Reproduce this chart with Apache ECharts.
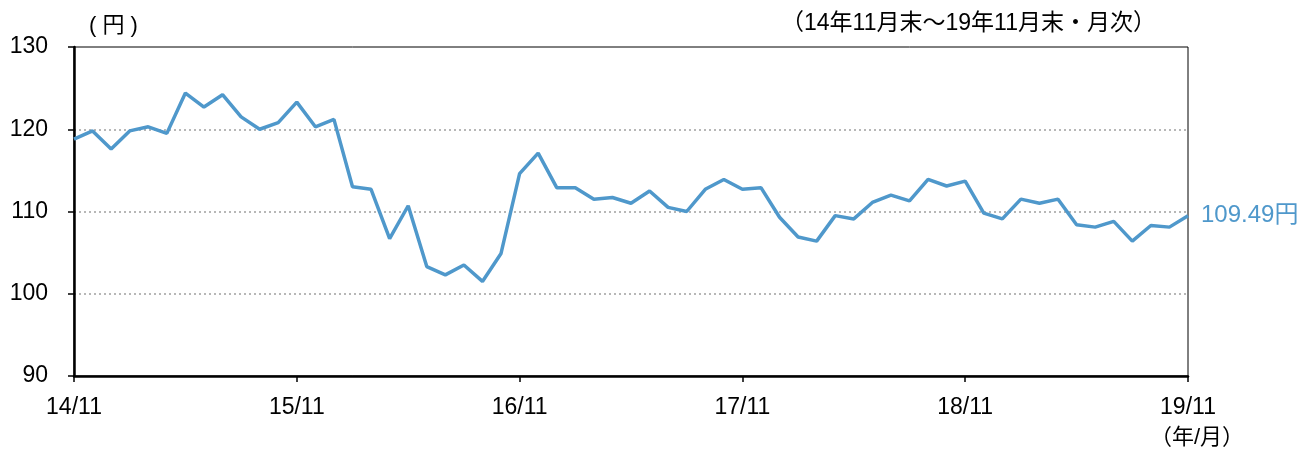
<!DOCTYPE html>
<html>
<head>
<meta charset="utf-8">
<script src="https://cdn.jsdelivr.net/npm/echarts@6/dist/echarts.min.js"></script>
<style>
  html, body { margin: 0; padding: 0; background: #fff; }
  #main { width: 1306px; height: 451px; }
</style>
</head>
<body>
<div id="main"></div>
<script>
// 月末ドル円レート（14/11〜19/11）
var months = [
  '14/11', '14/12', '15/01', '15/02', '15/03', '15/04', '15/05', '15/06', '15/07', '15/08', '15/09', '15/10',
  '15/11', '15/12', '16/01', '16/02', '16/03', '16/04', '16/05', '16/06', '16/07', '16/08', '16/09', '16/10',
  '16/11', '16/12', '17/01', '17/02', '17/03', '17/04', '17/05', '17/06', '17/07', '17/08', '17/09', '17/10',
  '17/11', '17/12', '18/01', '18/02', '18/03', '18/04', '18/05', '18/06', '18/07', '18/08', '18/09', '18/10',
  '18/11', '18/12', '19/01', '19/02', '19/03', '19/04', '19/05', '19/06', '19/07', '19/08', '19/09', '19/10',
  '19/11'
];
var usdjpy = [
  118.8, 119.8, 117.6, 119.8, 120.3, 119.5, 124.4, 122.7, 124.2, 121.5, 120.0, 120.8,
  123.3, 120.3, 121.2, 113.0, 112.7, 106.7, 110.7, 103.3, 102.3, 103.5, 101.5, 104.9,
  114.6, 117.1, 112.9, 112.9, 111.5, 111.7, 111.0, 112.5, 110.5, 110.0, 112.7, 113.9,
  112.7, 112.9, 109.3, 106.9, 106.4, 109.5, 109.1, 111.1, 112.0, 111.3, 113.9, 113.1,
  113.7, 109.8, 109.1, 111.5, 111.0, 111.5, 108.4, 108.1, 108.8, 106.4, 108.3, 108.1,
  109.49
];
var lastLabel = '109.49円';
var yTicks = [90, 100, 110, 120, 130];

var FONT = "'Liberation Sans', Arial, 'Noto Sans CJK JP', sans-serif";
var JFONT = "'Liberation Sans', 'Noto Sans CJK JP', sans-serif";

var myChart = echarts.init(document.getElementById('main'));
myChart.setOption({
  backgroundColor: '#fff',
  animation: false,
  grid: {
    left: 74, right: 118, top: 47, bottom: 75,
    show: true, borderColor: '#000', borderWidth: 1
  },
  graphic: [
    { type: 'text', left: 89, top: 15, style: { text: '( 円 )', fontSize: 22, fontFamily: JFONT, fill: '#000' } },
    { type: 'text', left: 781, top: 12, style: { text: '（14年11月末～19年11月末・月次）', fontSize: 23, fontFamily: JFONT, fill: '#000' } },
    { type: 'text', left: 1150, top: 427, style: { text: '（年/月）', fontSize: 22, fontFamily: JFONT, fill: '#000' } }
  ],
  xAxis: {
    type: 'category',
    data: months,
    boundaryGap: false,
    axisLine: { lineStyle: { color: '#000', width: 2.5 } },
    axisTick: { interval: 11, length: 6, lineStyle: { color: '#000', width: 1.5 } },
    axisLabel: {
      interval: 11, margin: 20, color: '#000', fontSize: 23, fontFamily: FONT,
      formatter: function (v) { return v; }
    },
    splitLine: { show: false }
  },
  yAxis: {
    type: 'value',
    min: yTicks[0], max: yTicks[yTicks.length - 1], interval: 10,
    axisLine: { show: true, lineStyle: { color: '#000', width: 2.5 } },
    axisTick: { show: true, length: 6, lineStyle: { color: '#000', width: 1.5 } },
    axisLabel: { margin: 26, color: '#000', fontSize: 23, fontFamily: FONT },
    splitLine: {
      show: true, showMinLine: false, showMaxLine: false,
      lineStyle: { color: '#a0a0a0', type: [2, 3], width: 1.5 }
    }
  },
  series: [{
    type: 'line',
    data: usdjpy,
    symbol: 'none',
    lineStyle: { color: '#4f98cb', width: 3.5 },
    endLabel: {
      show: true,
      formatter: function () { return lastLabel; },
      color: '#4f98cb', fontSize: 24, fontFamily: JFONT, distance: 13
    }
  }]
});
</script>
</body>
</html>
